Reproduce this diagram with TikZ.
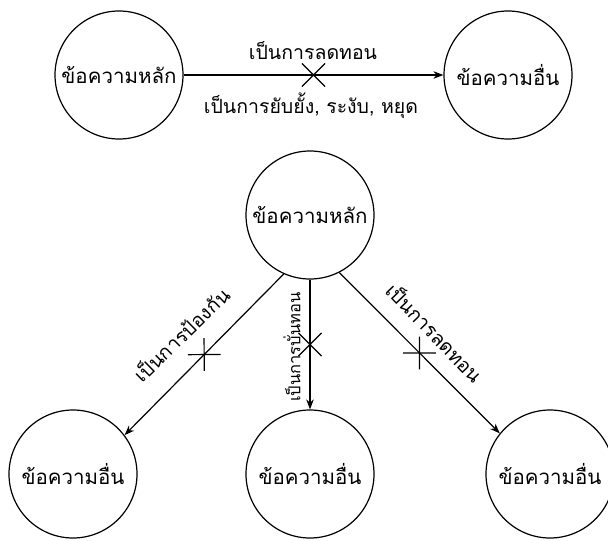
\documentclass[tikz,border=0pt]{standalone}
\usepackage{fontspec}
\newfontfamily\thaifont[Script=Thai]{Loma}
\usetikzlibrary{arrows.meta,shapes.misc}
\begin{document}
\begin{tikzpicture}[x=1pt,y=-1pt,
  bubble/.style={circle,draw,line width=1.2pt,minimum size=128pt,inner sep=0pt,
    font=\thaifont\fontsize{20.5}{24}\selectfont},
  lbl/.style={inner sep=0pt,font=\thaifont\fontsize{19.5}{23}\selectfont},
  smalllbl/.style={inner sep=0pt,font=\thaifont\fontsize{16.5}{19}\selectfont},
  conn/.style={line width=1.2pt,-{Stealth[length=10pt,width=7.5pt]}},
  xmark/.style={cross out,draw,line width=1.2pt,minimum size=22pt,inner sep=0pt,sloped,pos=0.5}
]
\useasboundingbox (0,0) rectangle (608,541);
\clip (0,0) rectangle (608,541);

% top row
\node[bubble] (tl) at (119,75) {ข้อความหลัก};
\node[bubble] (tr) at (508,75) {ข้อความอื่น};
\draw[conn] (tl) -- (tr) node[xmark] (x0) {};
\node[lbl] (l0a) at (313,51) {เป็นการลดทอน};
\node[lbl] (l0b) at (311,106) {เป็นการยับยั้ง, ระงับ, หยุด};

% bottom tree
\node[bubble] (tm) at (310,215) {ข้อความหลัก};
\node[bubble] (bl) at (73,474) {ข้อความอื่น};
\node[bubble] (bm) at (310,474) {ข้อความอื่น};
\node[bubble] (br) at (550,474) {ข้อความอื่น};

\draw[conn] (tm.246.7) -- (bl.37) node[xmark] (x1) {};
\draw[conn] (tm.south) -- (bm.north) node[xmark] (x2) {};
\draw[conn] (tm.297.4) -- (br.141.7) node[xmark] (x3) {};

\node[lbl,rotate=44.4] (l1) at (181,334) {เป็นการป้องกัน};
\node[smalllbl,rotate=90] (l2) at (292,347) {เป็นการบั่นทอน};
\node[lbl,rotate=-46] (l3) at (435,332) {เป็นการลดทอน};
\end{tikzpicture}
\end{document}
